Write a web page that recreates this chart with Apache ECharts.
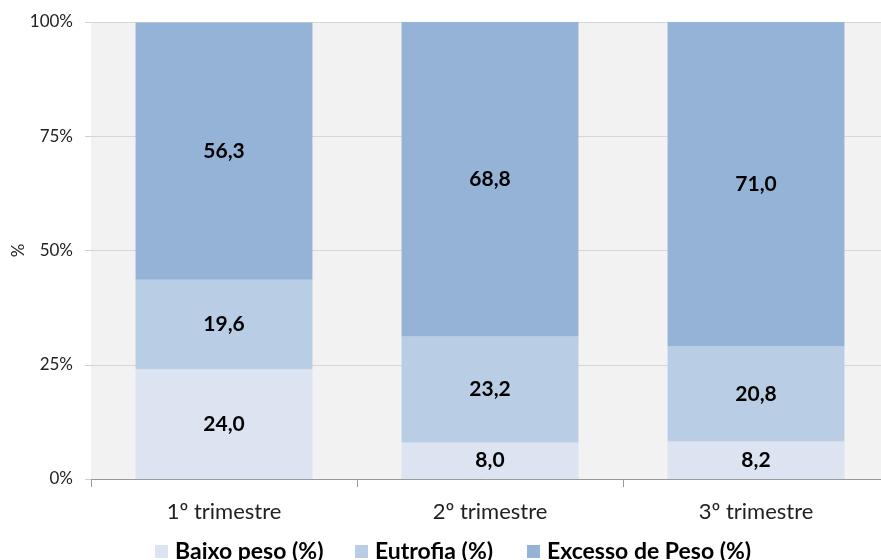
<!DOCTYPE html>
<html>
<head>
<meta charset="utf-8">
<script src="https://cdn.jsdelivr.net/npm/echarts@6/dist/echarts.min.js"></script>
<style>
  html, body { margin: 0; padding: 0; background: #fff; }
  #main { width: 881px; height: 560px; }
</style>
</head>
<body>
<div id="main"></div>
<script>
var categories = ['1º trimestre', '2º trimestre', '3º trimestre'];
var seriesNames = ['Baixo peso (%)', 'Eutrofia (%)', 'Excesso de Peso (%)'];
var baixoPeso = [24.0, 8.0, 8.2];
var eutrofia = [19.6, 23.2, 20.8];
var excessoPeso = [56.3, 68.8, 71.0];
var yTicks = [0, 25, 50, 75, 100];

var colors = ['#dce4f2', '#b9cde5', '#95b3d7'];
var font = 'Lato, "Open Sans", sans-serif';

var chart = echarts.init(document.getElementById('main'));

function fmt(p) {
  return p.value.toFixed(1).replace('.', ',');
}

function bar(name, data, color) {
  return {
    name: name,
    type: 'bar',
    stack: 'total',
    data: data,
    barWidth: '66.5%',
    itemStyle: { color: color },
    label: {
      show: true,
      position: 'inside',
      formatter: fmt,
      color: '#000',
      fontFamily: font,
      fontWeight: 'bold',
      fontSize: 21
    }
  };
}

// one legend per item so each sits where the original puts it
function legendAt(name, left) {
  return {
    data: [name],
    left: left,
    top: 540,
    padding: 0,
    itemWidth: 13,
    itemHeight: 13,
    itemGap: 0,
    icon: 'rect',
    textStyle: { fontFamily: font, fontWeight: 'bold', fontSize: 23, color: '#000', padding: [0, 0, 0, 2] }
  };
}

var option = {
  animation: false,
  color: colors,
  grid: {
    left: 91, width: 798, top: 22, bottom: 81,
    containLabel: false,
    outerBoundsMode: 'none',
    show: true, backgroundColor: '#f2f2f2', borderWidth: 0
  },
  legend: [
    legendAt(seriesNames[0], 155),
    legendAt(seriesNames[1], 355),
    legendAt(seriesNames[2], 527)
  ],
  xAxis: {
    type: 'category',
    data: categories,
    axisLine: { show: true, lineStyle: { color: '#999' } },
    axisTick: { show: true, length: 8, lineStyle: { color: '#999' } },
    axisLabel: { fontFamily: font, fontSize: 22, color: '#222', margin: 22 }
  },
  yAxis: {
    type: 'value',
    min: 0,
    max: 100,
    interval: 25,
    name: '%',
    nameLocation: 'middle',
    nameGap: 64,
    nameMoveOverlap: false,
    nameTextStyle: { fontFamily: font, fontSize: 17, color: '#222' },
    axisLine: { show: false },
    axisTick: { show: true, length: 6, lineStyle: { color: '#d0d0d0' } },
    splitLine: { show: true, lineStyle: { color: '#d6d6d6', width: 1 } },
    axisLabel: {
      fontFamily: font, fontSize: 17, color: '#222', margin: 18,
      formatter: function (v) { return yTicks.indexOf(v) >= 0 ? v + '%' : ''; }
    }
  },
  series: [
    bar(seriesNames[0], baixoPeso, colors[0]),
    bar(seriesNames[1], eutrofia, colors[1]),
    bar(seriesNames[2], excessoPeso, colors[2])
  ]
};

chart.setOption(option);
</script>
</body>
</html>
